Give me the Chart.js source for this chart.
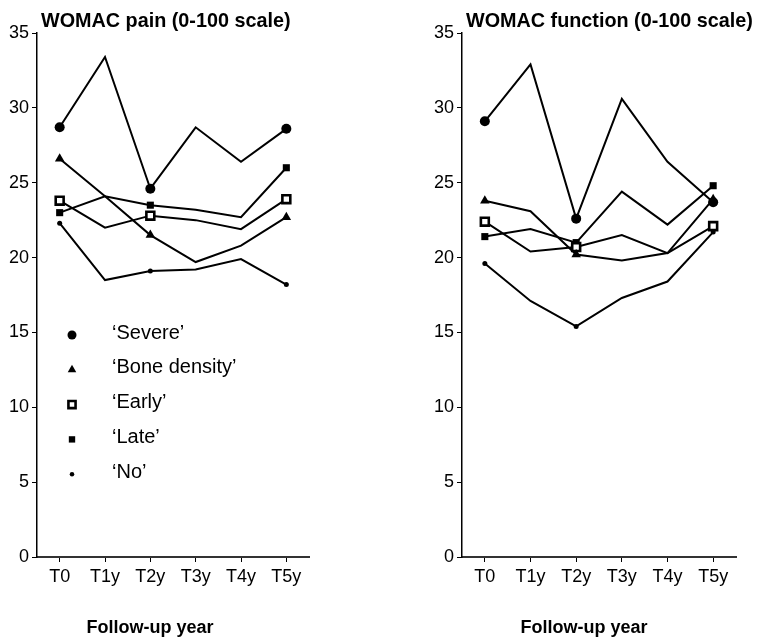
<!DOCTYPE html>
<html>
<head>
<meta charset="utf-8">
<script src="https://cdn.jsdelivr.net/npm/chart.js"></script>
<style>
  html, body { margin: 0; padding: 0; background: #fff; }
  #wrap { position: relative; width: 757px; height: 638px; overflow: hidden; }
  canvas { position: absolute; top: 0; }
  #pain { left: 0; }
  #func { left: 425px; }
</style>
</head>
<body>
<div id="wrap">
  <canvas id="pain" width="330" height="638"></canvas>
  <canvas id="func" width="332" height="638"></canvas>
</div>
<script>
// Follow-up time points
const categories = ['T0', 'T1y', 'T2y', 'T3y', 'T4y', 'T5y'];
const groupNames = ['\u2018Severe\u2019', '\u2018Bone density\u2019', '\u2018Early\u2019', '\u2018Late\u2019', '\u2018No\u2019'];

// WOMAC pain, mean score per group (0-100 scale)
const painSevere = [28.7, 33.4, 24.6, 28.7, 26.4, 28.6];
const painBone   = [26.6, 24.1, 21.5, 19.7, 20.8, 22.7];
const painEarly  = [23.8, 22.0, 22.8, 22.5, 21.9, 23.9];
const painLate   = [23.0, 24.1, 23.5, 23.2, 22.7, 26.0];
const painNo     = [22.3, 18.5, 19.1, 19.2, 19.9, 18.2];

// WOMAC function, mean score per group (0-100 scale)
const funcSevere = [29.1, 32.9, 22.6, 30.6, 26.4, 23.7];
const funcBone   = [23.8, 23.1, 20.2, 19.8, 20.3, 23.9];
const funcEarly  = [22.4, 20.4, 20.7, 21.5, 20.3, 22.1];
const funcLate   = [21.4, 21.9, 21.0, 24.4, 22.2, 24.8];
const funcNo     = [19.6, 17.1, 15.4, 17.3, 18.4, 21.7];

// y axis range and step
const yMin = 0, yMax = 35, yStep = 5;

// Only baseline, 2-year and 5-year visits carry a marker
const markedVisits = [0, 2, 5];

// Marker look for each group, in legend order
const markerStyles = [
  { pointStyle: 'circle',   radius: 5,   fill: '#000', border: 0 },
  { pointStyle: 'triangle', radius: 5.5, fill: '#000', border: 0 },
  { pointStyle: 'rect',     radius: 5.6, fill: '#fff', border: 2.6 },
  { pointStyle: 'rect',     radius: 5,   fill: '#000', border: 0 },
  { pointStyle: 'circle',   radius: 2.5, fill: '#000', border: 0 }
];

function makeDatasets(seriesList) {
  return seriesList.map((values, i) => {
    const m = markerStyles[i];
    const r = (c) => markedVisits.includes(c.dataIndex) ? m.radius : 0;
    return {
      label: groupNames[i],
      data: values,
      borderColor: '#000',
      borderWidth: 2,
      tension: 0,
      pointStyle: m.pointStyle,
      pointRadius: r,
      pointHoverRadius: r,
      pointBackgroundColor: m.fill,
      pointBorderColor: '#000',
      pointBorderWidth: m.border
    };
  });
}

const SANS = '"Liberation Sans", Arial, Helvetica, sans-serif';

// Panel title, x-axis caption and the in-plot key
const decorations = {
  id: 'decorations',
  afterDraw(chart, args, opts) {
    const ctx = chart.ctx;
    const area = chart.chartArea;
    ctx.save();
    ctx.fillStyle = '#000';
    ctx.textAlign = 'left';
    ctx.textBaseline = 'alphabetic';
    ctx.font = 'bold 19.8px ' + SANS;
    ctx.fillText(opts.title, area.left + opts.titleDx, opts.titleY);

    ctx.font = 'bold 18px ' + SANS;
    ctx.textAlign = 'center';
    ctx.textBaseline = 'middle';
    ctx.fillText(opts.caption, opts.captionX, opts.captionY);

    if (opts.key) {
      const k = opts.key;
      chart.data.datasets.forEach((ds, i) => {
        const m = markerStyles[i];
        const y = k.top + i * k.step;
        ctx.fillStyle = m.fill;
        ctx.strokeStyle = '#000';
        ctx.lineWidth = m.border;
        Chart.helpers.drawPoint(ctx, {
          pointStyle: m.pointStyle,
          radius: m.radius * 0.9,
          rotation: 0,
          borderWidth: m.border
        }, k.markerX, y);
        ctx.fillStyle = '#000';
        ctx.font = '20px ' + SANS;
        ctx.textAlign = 'left';
        ctx.textBaseline = 'middle';
        ctx.fillText(ds.label, k.textX, y - 2);
      });
    }
    ctx.restore();
  }
};

function makeChart(canvasId, seriesList, deco) {
  return new Chart(document.getElementById(canvasId), {
    type: 'line',
    data: { labels: categories, datasets: makeDatasets(seriesList) },
    plugins: [decorations],
    options: {
      responsive: false,
      animation: false,
      layout: { padding: { top: 33, right: 21, bottom: 0, left: 0 } },
      plugins: {
        legend: { display: false },
        tooltip: { enabled: false },
        decorations: deco
      },
      scales: {
        x: {
          type: 'category',
          offset: true,
          grid: { offset: false, drawOnChartArea: false, drawTicks: true, tickLength: 5, color: '#000', lineWidth: 1 },
          border: { display: true, color: '#333', width: 2 },
          ticks: { color: '#000', padding: 4, font: { family: SANS, size: 18 }, maxRotation: 0 },
          afterFit(scale) { scale.height = 81; }
        },
        y: {
          min: yMin,
          max: yMax,
          grid: { drawOnChartArea: false, drawTicks: true, tickLength: 5, color: '#000', lineWidth: 1 },
          border: { display: true, color: '#000', width: 1.5 },
          ticks: { stepSize: yStep, color: '#000', padding: 3, font: { family: SANS, size: 18 } },
          afterFit(scale) { scale.width = 37; }
        }
      }
    }
  });
}

makeChart('pain', [painSevere, painBone, painEarly, painLate, painNo], {
  title: 'WOMAC pain (0-100 scale)', titleDx: 4, titleY: 27,
  caption: 'Follow-up year', captionX: 150, captionY: 628,
  key: { markerX: 72, textX: 112, top: 335, step: 34.8 }
});

makeChart('func', [funcSevere, funcBone, funcEarly, funcLate, funcNo], {
  title: 'WOMAC function (0-100 scale)', titleDx: 4, titleY: 27,
  caption: 'Follow-up year', captionX: 159, captionY: 628,
  key: null
});
</script>
</body>
</html>
